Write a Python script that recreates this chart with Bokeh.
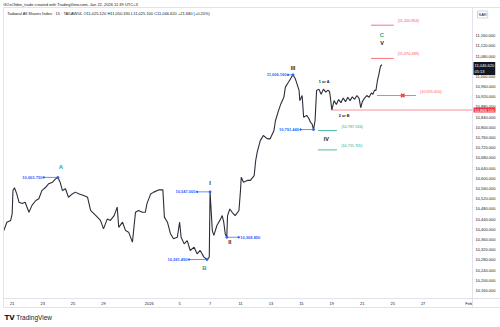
from bokeh.plotting import figure
from bokeh.models import (Range1d, LinearAxis, FixedTicker, NumeralTickFormatter,
                          Label, ColumnDataSource)
from bokeh.core.properties import value
from bokeh.embed import file_html
from bokeh.resources import INLINE

FONT = "Liberation Sans"
INK = "#131722"
BLUE = "#2962FF"
GREEN = "#22AB94"
RED = "#F23645"
PINK = "#F7525F"
LINE = "#2A2E39"
RULE = "#E0E3EB"

# ---- data: Tadawul All Shares Index, 15-minute closes ----
# bar index: 20 bars per session, bar 0 = Dec 21 10:00
bar = [-11, -7, -2, 0, 1, 3, 6, 9, 13, 17, 22, 26, 31, 35, 39, 44, 48, 53, 57, 60,
       63, 66, 70, 74, 79, 83, 88, 94, 99, 103, 110, 116, 120, 125, 129, 134, 138, 140,
       145, 149, 153, 158, 160, 162, 166, 171, 175, 177, 182, 186, 193, 198, 200, 204,
       208, 212, 217, 220, 222, 226, 230, 234, 239, 243, 247, 252, 256, 259, 260, 263,
       265, 269, 274, 276, 278, 280, 282, 283, 286, 289, 293, 298, 300, 301, 304, 309,
       313, 318, 320, 322, 326, 330, 335, 339, 344, 346, 350, 353, 357, 359, 363, 367,
       369, 372, 377, 378, 381, 383, 387, 390, 392, 394, 396, 398, 400, 403, 406, 409,
       412, 415, 417, 418, 420, 423, 426, 429, 432, 435, 438, 441, 444, 447, 450, 453,
       456, 458, 460, 463, 466, 469, 472, 474, 476, 478, 480, 482, 484, 486]
close = [10395, 10428, 10435, 10462, 10552, 10563, 10539, 10506, 10501, 10506, 10467,
         10494, 10513, 10520, 10552, 10565, 10579, 10585, 10598, 10603.75,
         10585, 10552, 10559, 10526, 10539, 10546, 10539, 10533, 10526, 10474, 10454,
         10435, 10402, 10441, 10435, 10454, 10487, 10408, 10428, 10395, 10389, 10350,
         10408, 10467, 10474, 10467, 10467, 10500, 10539, 10546, 10555, 10555, 10448,
         10428, 10383, 10363, 10369, 10428, 10369, 10343, 10356, 10317, 10330, 10304,
         10317, 10291, 10281.49, 10291, 10547.0, 10395, 10376, 10415, 10441, 10454,
         10428, 10382, 10368.85, 10454, 10480, 10467, 10454, 10474, 10552, 10604, 10585,
         10592, 10592, 10611, 10670, 10703, 10748, 10768, 10756, 10755, 10788, 10827,
         10866, 10892, 10918, 10958, 10977, 10997, 11006.16, 10991, 10945, 10905, 10925,
         10840, 10847, 10834, 10820, 10814, 10791.44, 10827, 10945, 10950, 10930, 10950,
         10938, 10946, 10940, 10921, 10868.1, 10905, 10890, 10909, 10897, 10915, 10901,
         10918, 10905, 10920, 10910, 10925, 10913, 10877, 10900, 10915, 10925, 10918,
         10935, 10930, 10945, 10945, 10984, 11010, 11040, 11046.62]

pivot_name = ["A", "B", "I", "II", "III", "IV"]
pivot_bar = [60, 256, 260, 282, 369, 396]
pivot_price = [10603.75, 10281.49, 10547.0, 10368.85, 11006.16, 10791.44]

alt_name = ["1 or A", "2 or B"]
alt_bar = [403, 420]
alt_price = [10950, 10868.1]

fib_price = [10787.534, 10711.705]
target_price = [11200.853, 11070.439]
invalidation_price = 10925.010
support_price = 10868.100
last_bar = 486
last_price = 11046.620

day_tick_bar = [0, 40, 80, 120, 180, 220, 260, 300, 340, 380, 420, 460, 500, 540, 600]
day_tick_label = ["21", "23", "25", "29", "2026", "5", "7", "11", "13", "15", "19",
                  "21", "25", "27", "Feb"]
price_ticks = [10160 + 40 * i for i in range(26)]

header_1 = "GOxOlden_trade created with TradingView.com, Jan 22, 2026 11:39 UTC+3"
header_2 = ("Tadawul All Shares Index \u00b7 15 \u00b7 TADAWUL   O11,025.120  H11,050.330  "
            "L11,025.100  C11,046.620  +21.680 (+0.20%)")

# ---- figure: the frame covers the whole canvas, scales sit on fixed rules ----
W, H = 500, 327
X0, X1 = -15.37, 641.69          # bars across the canvas
Y0, Y1 = 10014.9, 11297.76       # prices across the canvas
PANE_L, PANE_R = -11.43, 604.9   # chart pane edges (bars)
PANE_B, PANE_T = 10128.7, 11270.3
SCALE_B = 10093.4                # bottom of the time scale strip

p = figure(width=W, height=H, output_backend="svg", toolbar_location=None,
           x_range=Range1d(X0, X1), y_range=Range1d(Y0, Y1),
           x_axis_location=None, y_axis_location=None,
           min_border=0, min_border_left=0, min_border_right=0,
           min_border_top=0, min_border_bottom=0)
p.grid.visible = False
p.outline_line_color = None
p.background_fill_color = "white"
p.border_fill_color = "white"

px_per_bar = W / (X1 - X0)


def bars(px):
    return px / px_per_bar


def rule(loc, side, bounds):
    ax = LinearAxis(fixed_location=loc, ticker=FixedTicker(ticks=[]), bounds=bounds)
    ax.axis_line_color = RULE
    ax.major_tick_line_color = None
    ax.minor_tick_line_color = None
    ax.major_label_text_font_size = "0px"
    p.add_layout(ax, side)


# price scale
yax = LinearAxis(fixed_location=PANE_R, ticker=FixedTicker(ticks=price_ticks),
                 formatter=NumeralTickFormatter(format="0,0.000"), bounds=(SCALE_B, PANE_T))
yax.major_label_overrides = {11040: ""}
yax.major_tick_line_color = None
yax.minor_tick_line_color = None
yax.major_tick_out = 0
yax.major_tick_in = 0
yax.axis_line_color = RULE
yax.major_label_standoff = 3
yax.major_label_text_font = FONT
yax.major_label_text_font_size = "4px"
yax.major_label_text_color = INK
p.add_layout(yax, "right")

# time scale
xax = LinearAxis(fixed_location=PANE_B, ticker=FixedTicker(ticks=day_tick_bar),
                 bounds=(PANE_L, X1))
xax.major_label_overrides = {t: s for t, s in zip(day_tick_bar, day_tick_label)}
xax.major_tick_line_color = None
xax.minor_tick_line_color = None
xax.major_tick_out = 0
xax.major_tick_in = 0
xax.axis_line_color = RULE
xax.major_label_standoff = 3
xax.major_label_text_font = FONT
xax.major_label_text_font_size = "4px"
xax.major_label_text_color = INK
p.add_layout(xax, "below")

# pane border rules
rule(PANE_T, "above", (PANE_L, X1))
rule(SCALE_B, "below", (PANE_L, X1))
rule(PANE_L, "left", (SCALE_B, PANE_T))

# support level from the "2 or B" low to the price scale
p.segment(x0=[alt_bar[1]], x1=[PANE_R], y0=[support_price], y1=[support_price],
          color=PINK, line_width=0.8, line_alpha=0.8)

# price line
p.line(bar, close, color=LINE, line_width=1.1)

# pivot price notes: connector, dot and value
conn = {"A": -14, "B": -18, "I": -13, "II": 12, "III": -5, "IV": -13}
name_off = {"A": (3, -10), "B": (-2.5, 8), "I": (0, -9), "II": (3, 5), "III": (0, -7),
            "IV": (12.7, 9.4)}
seg_x0, seg_x1, seg_y, vx, vy, valign, vtxt = [], [], [], [], [], [], []
for n, b, pr in zip(pivot_name, pivot_bar, pivot_price):
    L = conn[n]
    seg_x0.append(b + bars(L))
    seg_x1.append(b)
    seg_y.append(pr)
    vx.append(b + bars(L + (-1.5 if L < 0 else 1.5)))
    vy.append(pr)
    valign.append("right" if L < 0 else "left")
    vtxt.append(f"{pr:,.3f}")
p.segment(x0=seg_x0, y0=seg_y, x1=seg_x1, y1=seg_y, color=BLUE, line_width=0.7)
p.scatter(x=pivot_bar, y=pivot_price, size=2, color=BLUE)
p.scatter(x=seg_x0, y=seg_y, size=1.5, color=BLUE)
p.text(source=ColumnDataSource(dict(x=vx, y=vy, t=vtxt, a=valign)), x="x", y="y", text="t",
       text_align="a", text_baseline="middle", text_font=value(FONT),
       text_font_size="4px", text_font_style="bold", text_color=BLUE)

# wave labels
nx, ny, nt, ndx, ndy, ncol, nsize = [], [], [], [], [], [], []
for n, b, pr in zip(pivot_name, pivot_bar, pivot_price):
    nx.append(b); ny.append(pr); nt.append(n)
    ndx.append(name_off[n][0]); ndy.append(name_off[n][1])
    ncol.append(GREEN if n in ("A", "B") else INK)
    nsize.append("6px" if n in ("A", "B") else "5.5px")
nx += [last_bar, last_bar]; ny += [last_price, last_price]; nt += ["C", "V"]
ndx += [0, 0]; ndy += [-29.5, -21.5]; ncol += [GREEN, INK]; nsize += ["6px", "5.5px"]
p.text(source=ColumnDataSource(dict(x=nx, y=ny, t=nt, dx=ndx, dy=ndy, c=ncol, s=nsize)),
       x="x", y="y", text="t", x_offset="dx", y_offset="dy", text_color="c",
       text_font_size="s", text_align="center", text_baseline="middle",
       text_font=value(FONT), text_font_style="bold")

# alternate counts
p.text(x=alt_bar, y=alt_price, text=alt_name, x_offset=[0, 7], y_offset=[-7, 5.5],
       text_align="left", text_baseline="middle", text_font=value(FONT),
       text_font_size="3.8px", text_font_style="bold", text_color=INK)

# fibonacci retracement levels after wave IV
iv_bar = pivot_bar[5]
p.segment(x0=[iv_bar + bars(4.4)] * 2, x1=[iv_bar + bars(23.4)] * 2, y0=fib_price,
          y1=fib_price, color=GREEN, line_width=0.8)
p.text(x=[iv_bar + bars(27.7)] * 2, y=fib_price, text=[f"({v:,.3f})" for v in fib_price],
       y_offset=-3.5, text_align="left", text_baseline="middle", text_font=value(FONT),
       text_font_size="3.8px", text_color=GREEN)

# targets for wave V / C
p.segment(x0=[last_bar - bars(11)] * 2, x1=[last_bar + bars(11.7)] * 2, y0=target_price,
          y1=target_price, color=PINK, line_width=0.8)
p.text(x=[last_bar + bars(15.7)] * 2, y=target_price, text=[f"({v:,.3f})" for v in target_price],
       y_offset=-4, text_align="left", text_baseline="middle", text_font=value(FONT),
       text_font_size="3.8px", text_color=PINK)

# invalidation level
p.segment(x0=[last_bar - bars(5)], x1=[last_bar + bars(34)], y0=[invalidation_price],
          y1=[invalidation_price], color=PINK, line_width=0.8)
p.scatter(x=[last_bar + bars(20.7)], y=[invalidation_price], marker="x", size=5,
          line_width=1.4, color=RED)
p.text(x=[last_bar + bars(38)], y=[invalidation_price], text=[f"({invalidation_price:,.3f})"],
       y_offset=-4, text_align="left", text_baseline="middle", text_font=value(FONT),
       text_font_size="3.8px", text_color=PINK)

# price scale tags
tag_x = (PANE_R - X0) * px_per_bar + 1
p.add_layout(Label(x=tag_x, y=support_price, x_units="screen", y_units="data",
                   text=f"{support_price:,.3f}", text_font=FONT, text_font_size="4px",
                   text_color="white", text_baseline="middle", background_fill_color=RED,
                   padding=1))
p.add_layout(Label(x=tag_x, y=last_price, x_units="screen", y_units="data",
                   y_offset=2.5, text=f"{last_price:,.3f}\n05:13", text_font=FONT,
                   text_font_size="4px", text_color="white", text_baseline="top",
                   background_fill_color=INK, padding=1))
p.add_layout(Label(x=tag_x + 4, y=H - 14, x_units="screen", y_units="screen",
                   text="SAR", text_font=FONT, text_font_size="4px", text_color=INK,
                   text_baseline="middle", border_line_color="#D1D4DC", padding=1))

# header and footer
p.add_layout(Label(x=2.7, y=H - 4.3, x_units="screen", y_units="screen", text=header_1,
                   text_font=FONT, text_font_size="4px", text_color=INK,
                   text_baseline="middle"))
p.add_layout(Label(x=6.7, y=H - 13.3, x_units="screen", y_units="screen", text=header_2,
                   text_font=FONT, text_font_size="4px", text_color=INK,
                   text_baseline="middle"))
p.add_layout(Label(x=4, y=H - 317.3, x_units="screen", y_units="screen", text="TV",
                   text_font="DejaVu Sans", text_font_size="7px", text_font_style="bold",
                   text_color=INK, text_baseline="middle"))
p.add_layout(Label(x=15.7, y=H - 317.3, x_units="screen", y_units="screen", text="TradingView",
                   text_font=FONT, text_font_size="6.5px", text_color=INK,
                   text_baseline="middle"))

open("out.html", "w").write(file_html(p, INLINE))
